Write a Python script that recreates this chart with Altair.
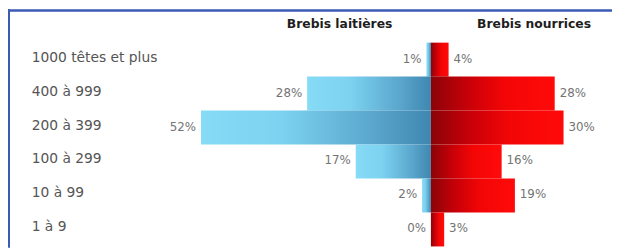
import altair as alt
import pandas as pd

categories = ["1000 têtes et plus", "400 à 999", "200 à 399", "100 à 299", "10 à 99", "1 à 9"]
laitieres = [1, 28, 52, 17, 2, 0]
nourrices = [4, 28, 30, 16, 19, 3]
headers = ["Brebis laitières", "Brebis nourrices"]

W, H = 612, 241

df_l = pd.DataFrame({
    "cat": categories,
    "start": [0] * len(categories),
    "end": [-v for v in laitieres],
    "label": [f"{v}%" for v in laitieres],
})
df_n = pd.DataFrame({
    "cat": categories,
    "start": [0] * len(categories),
    "end": nourrices,
    "label": [f"{v}%" for v in nourrices],
})

xscale = alt.Scale(domain=[-95.65, 40.96], nice=False, zero=False)
yscale = alt.Scale(domain=categories, range=[33.5, 240], paddingInner=0, paddingOuter=0)
xax = None
yax = None

blue_grad = alt.Gradient(
    gradient="linear", x1=0, y1=0, x2=1, y2=0,
    stops=[
        alt.GradientStop(color="#86dcf6", offset=0),
        alt.GradientStop(color="#7cd2f0", offset=0.35),
        alt.GradientStop(color="#5aa6cc", offset=0.75),
        alt.GradientStop(color="#3f87b1", offset=1),
    ],
)
red_grad = alt.Gradient(
    gradient="linear", x1=0, y1=0, x2=1, y2=0,
    stops=[
        alt.GradientStop(color="#8a0408", offset=0),
        alt.GradientStop(color="#c80008", offset=0.3),
        alt.GradientStop(color="#f40606", offset=0.6),
        alt.GradientStop(color="#ff0a0a", offset=1),
    ],
)

pct_font = "DejaVu Sans, sans-serif"

bars_l = alt.Chart(df_l).mark_bar(fill=blue_grad, strokeWidth=0).encode(
    x=alt.X("start:Q", scale=xscale, axis=xax),
    x2="end:Q",
    y=alt.Y("cat:N", scale=yscale, axis=yax),
)
bars_n = alt.Chart(df_n).mark_bar(fill=red_grad, strokeWidth=0).encode(
    x=alt.X("start:Q", scale=xscale, axis=xax),
    x2="end:Q",
    y=alt.Y("cat:N", scale=yscale, axis=yax),
)
lab_l = alt.Chart(df_l).mark_text(
    align="right", baseline="middle", dx=-5, dy=-1, fontSize=12, font=pct_font, color="#737373"
).encode(
    x=alt.X("end:Q", scale=xscale, axis=xax),
    y=alt.Y("cat:N", scale=yscale, axis=yax),
    text="label:N",
)
lab_n = alt.Chart(df_n).mark_text(
    align="left", baseline="middle", dx=5, dy=-1, fontSize=12, font=pct_font, color="#737373"
).encode(
    x=alt.X("end:Q", scale=xscale, axis=xax),
    y=alt.Y("cat:N", scale=yscale, axis=yax),
    text="label:N",
)
cats = alt.Chart(df_l).mark_text(
    align="left", baseline="middle", dy=-2, fontSize=14, font="DejaVu Sans, sans-serif", color="#555555"
).encode(
    x=alt.value(24),
    y=alt.Y("cat:N", scale=yscale, axis=yax),
    text="cat:N",
)

hdr_df = pd.DataFrame({"h": headers})
hdr_font = "DejaVu Sans, sans-serif"
hdr1 = alt.Chart(hdr_df).transform_filter(alt.datum.h == headers[0]).mark_text(
    align="center", baseline="middle", fontSize=12.5, fontWeight="bold", font=hdr_font, color="#1e1e1e"
).encode(x=alt.value(336), y=alt.value(15), text="h:N")
hdr2 = alt.Chart(hdr_df).transform_filter(alt.datum.h == headers[1]).mark_text(
    align="center", baseline="middle", fontSize=12.5, fontWeight="bold", font=hdr_font, color="#1e1e1e"
).encode(x=alt.value(533), y=alt.value(15), text="h:N")

border_top = alt.Chart(hdr_df).mark_rule(color="#3b5bb5", strokeWidth=2).encode(
    x=alt.value(0), x2=alt.value(W), y=alt.value(1)
)
border_left = alt.Chart(hdr_df).mark_rule(color="#3b5bb5", strokeWidth=2).encode(
    x=alt.value(1), y=alt.value(0), y2=alt.value(H)
)

chart = alt.layer(
    bars_l, bars_n, lab_l, lab_n, cats, hdr1, hdr2, border_top, border_left
).properties(
    width=W, height=H, padding=0, autosize=alt.AutoSizeParams(type="none"),
    background="#ffffff",
).configure_view(stroke=None)

chart.save("out.html", embed_options={"renderer": "svg", "actions": False})
